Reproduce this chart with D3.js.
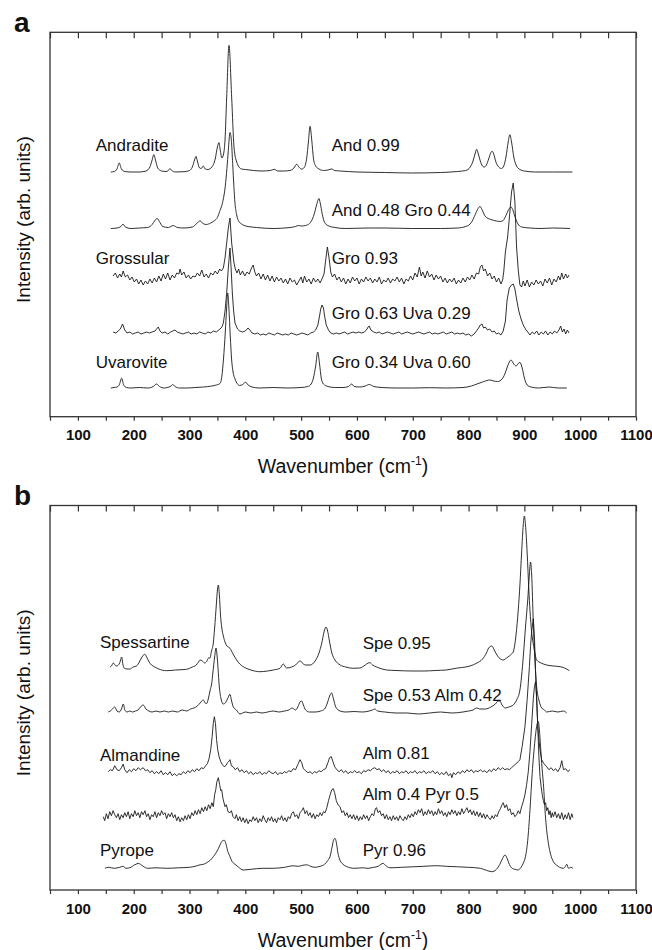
<!DOCTYPE html>
<html>
<head>
<meta charset="utf-8">
<script src="https://cdn.jsdelivr.net/npm/d3@7"></script>
<style>
body { margin: 0; background: #fff; }
text { font-family: "Liberation Sans", Arial, sans-serif; fill: #111; }
</style>
</head>
<body>
<script>
//////////////// Data ////////////////////
// x axis ticks (cm-1)
var tickValues = [50, 100, 150, 200, 250, 300, 350, 400, 450, 500, 550, 600, 650, 700, 750, 800, 850, 900, 950, 1000, 1050, 1100];
var tickLabels = [100, 200, 300, 400, 500, 600, 700, 800, 900, 1000, 1100];

// panel a : names left, compositions right, vertical offsets (arb. units)
var namesA = ["Andradite", "", "Grossular", "", "Uvarovite"];
var compA = ["And 0.99", "And 0.48 Gro 0.44", "Gro 0.93", "Gro 0.63 Uva 0.29", "Gro 0.34 Uva 0.60"];
var offsetsA = [244.7, 188.2, 134.7, 83.7, 28.7];
var noisyA = [false, false, true, true, false];

// spectra: [wavenumber, intensity above own baseline]
var andradite = [[159,0],[165,0.5],[170,3],[174,9],[178,3],[184,0.5],[195,0],[210,0],[222,1],[229,5],[233,12],[236,17.4],[239,12],[243,4],[250,1],[258,0.5],[262,1.5],[265,3.4],[268,1.5],[275,0],[290,0.3],[300,1.5],[305,5],[309,12],[311.6,15.7],[314,11],[318,4],[321,3.5],[324.7,6],[328,3],[333,2.5],[340,5],[346,13],[350,25],[352.8,29.4],[355,22],[358,14],[361,18],[363.6,32],[366.6,75],[370.7,126.7],[375.5,75],[379.7,25],[384.5,10],[393,3],[400,2.5],[415,1.5],[430,1],[445,1.5],[452,2.7],[458,1],[470,1],[480,1.5],[487,4],[492,7.7],[496,5],[501,2.8],[506,5],[510,14],[513,30],[516,45.7],[519,32],[522,14],[526,6],[532,3],[540,1.5],[548,2],[555,3],[560,1.5],[570,1],[600,0],[650,-0.5],[700,-1],[750,-0.5],[780,0.5],[795,1.5],[803,5],[808,11],[812,19],[814.5,22.7],[817,19],[821,11],[825,6],[828,5],[832,7],[836,13],[840,19.5],[842.6,20.7],[845,18],[849,10],[854,5],[859,3.5],[863,6],[867,15],[871,30],[874,37.4],[877,30],[881,15],[886,6],[892,2.5],[900,1],[920,0],[950,0],[986,0]];

var andGro = [[159,0],[170,0.5],[177,2],[181,4.3],[185,1.5],[195,0],[210,0.5],[225,1],[233,4],[238,8],[242,10],[246,7],[252,2],[262,1],[271,3],[278,1],[290,0.5],[305,1.5],[313,5],[319,7.6],[324,5],[330,4],[338,5.5],[345,8],[350,11],[354,17],[360,28],[364,42],[367,60],[369.5,78],[372.5,96],[375,88],[377.3,65],[379.5,42],[381.5,25],[384,15],[387.4,8],[392,5],[398,3],[405,2],[420,1],[450,0],[480,1],[490,2],[495,3],[500,2.5],[508,3],[515,5],[522,12],[527,22],[530,28],[532,30],[534,26],[538,14],[542,6],[548,3],[560,1],[580,0],[620,0.5],[650,0.5],[700,0],[750,0],[780,0.5],[795,2],[805,6],[812,14],[817,20],[820.5,22],[824,19],[830,12],[840,9],[850,7.5],[857,7],[862,8],[867,13],[872,19],[876,21.5],[879,19],[883,12],[888,5],[895,1.5],[910,0.5],[930,0],[950,0.5],[982,0]];

var grossular = [[163,6],[167,9],[171,4],[175,8],[178,5],[181,11],[185,5],[189,7],[193,2],[197,5],[201,0],[205,3],[209,-2],[213,2],[217,-3],[221,1],[225,-2],[229,3],[233,-1],[237,4],[241,0],[245,6],[249,1],[253,8],[257,3],[261,9],[265,2],[269,7],[273,4],[277,9],[281,8],[283,13],[286,7],[290,10],[294,4],[298,7],[302,3],[306,6],[310,5],[314,9],[318,6],[322,12],[326,5],[330,8],[334,4],[338,9],[342,7],[346,11],[350,8],[354,13],[357,11],[360.6,14],[363.6,24],[366.6,39],[369.5,54],[372.5,64],[375.5,39],[379.7,19],[382,13],[385,9],[388,13],[391,7],[395,11],[399,6],[403,10],[407,8],[411,14],[414,17],[417,10],[420,6],[424,9],[428,3],[432,8],[436,2],[440,7],[444,1],[448,6],[452,0],[456,5],[460,1],[464,4],[468,-1],[472,3],[476,-2],[480,4],[484,0],[488,2],[492,-3],[496,1],[500,5],[503,-1],[506,6],[510,0],[514,3],[518,-2],[522,4],[526,0],[530,3],[534,-1],[538,4],[541,8],[544,22],[547,35],[550,24],[553,10],[556,5],[560,8],[564,2],[568,5],[572,0],[576,4],[580,-2],[584,3],[588,-1],[592,5],[596,1],[600,4],[604,-2],[608,3],[612,0],[616,5],[620,1],[624,4],[628,-1],[632,3],[636,0],[640,5],[644,-2],[648,2],[652,0],[656,4],[660,-1],[664,3],[668,1],[672,5],[676,0],[680,4],[684,-2],[688,3],[692,1],[696,6],[700,2],[704,9],[708,5],[712,15],[715,6],[718,10],[722,4],[726,11],[730,5],[734,8],[738,2],[742,7],[746,3],[750,6],[754,0],[758,4],[762,-1],[766,3],[770,0],[774,4],[778,-2],[782,2],[786,-1],[790,4],[794,0],[798,5],[802,2],[806,7],[810,3],[814,9],[818,8],[821,15],[824,17],[827,11],[830,13],[834,6],[838,9],[842,3],[846,6],[850,0],[854,4],[858,-2],[861,2],[863,10],[866,30],[870,45],[874,70],[877,90],[880,99],[883,80],[886,35],[889,12],[892,-3],[895,-5],[898,1],[901,-4],[905,2],[909,-5],[913,0],[917,-3],[921,2],[925,-2],[929,1],[933,-4],[937,3],[941,-1],[945,4],[949,-3],[953,3],[957,0],[961,6],[964,2],[967,9],[970,3],[974,8],[977,4],[980,7]];

var groUva63 = [[163,1],[168,0],[172,2],[176,4],[180,9],[184,3],[188,0],[193,1],[198,-1],[203,0],[208,1],[213,-1],[218,0],[223,1],[228,0],[233,1],[238,2],[241,4],[244,6],[247,2],[251,0],[256,1],[261,-1],[266,1],[270,2],[274,3],[278,1],[283,0],[288,-1],[293,0],[298,1],[303,-1],[308,0],[313,-1],[318,1],[323,0],[328,-1],[333,1],[338,0],[343,2],[348,1],[354.6,4],[358,6],[360.6,10],[363.6,22],[366.6,40],[369.5,65],[372.5,85],[374.5,65],[376.7,40],[379,22],[381.5,10],[386,4],[390,2],[395,1],[400,2],[403,4],[405,5],[408,3],[412,0],[417,-1],[422,0],[427,-2],[432,-1],[437,-2],[442,0],[447,-1],[452,-2],[457,0],[462,-1],[467,-2],[472,-1],[477,-2],[482,0],[487,-1],[492,-2],[497,-1],[502,0],[507,-1],[512,-2],[517,0],[522,1],[526,3],[530,8],[533,17],[535,24],[537.5,28],[540,25],[542,17],[545,8],[549,3],[553,0],[558,-1],[563,0],[568,-1],[573,0],[578,1],[583,-1],[588,0],[593,1],[598,0],[603,1],[608,0],[613,1],[617,3],[620,6],[622,7],[625,3],[630,1],[635,0],[640,1],[645,-1],[650,0],[655,1],[660,0],[665,-1],[670,0],[675,1],[680,-1],[685,0],[690,1],[695,0],[700,-1],[705,0],[710,1],[715,0],[720,-1],[725,0],[730,1],[735,-1],[740,0],[745,-1],[750,0],[755,1],[760,-1],[765,0],[770,1],[775,-1],[780,0],[785,-1],[790,0],[795,-2],[800,-1],[805,-3],[810,-1],[814,2],[818,5],[821,8],[824,9],[827,5],[830,6],[834,3],[838,4],[842,1],[846,2],[850,-1],[854,0],[858,-2],[862,2],[866,12],[869,33],[873,45],[877,48],[880,49],[883,44],[886,34],[890,22],[894,14],[898,8],[902,4],[906,1],[910,-2],[914,1],[918,-1],[922,2],[926,-2],[930,1],[934,-1],[938,2],[942,-2],[946,1],[950,-1],[954,2],[958,0],[962,3],[965,7],[968,1],[971,4],[974,-1],[977,3],[980,0]];

var groUva34 = [[159,0],[165,0.5],[170,1],[174,3],[178.4,9.7],[182,3],[187,0.5],[195,0],[210,0.5],[225,0],[235,1.5],[241,4],[246,1.5],[255,0],[263,1],[267,2],[270,3.5],[274,1.5],[282,0],[295,0],[310,0.5],[325,1],[340,2],[348,3],[354.6,4.5],[358,12],[361,30],[364,55],[366.5,80],[368.3,95],[370.5,80],[373,52],[375.5,28],[378,16],[381.5,9],[386,4],[390,2.5],[395,3.5],[400.6,5.7],[405,3],[412,1],[425,0],[450,0.5],[475,0],[500,0.5],[512,1.5],[518,4],[522,10],[526,22],[529.7,36],[533,24],[536,10],[540,4],[548,1.5],[560,0.5],[575,0.5],[585,1.5],[590.5,4],[595,1.5],[605,1],[615,2],[622,3.5],[630,1.5],[645,0.5],[670,0],[700,0],[730,0.3],[760,0],[790,0.5],[805,2],[815,4],[825,6],[833,7.5],[838,8],[845,7],[852,6.5],[860,9],[865,14],[870,22],[876,28],[881,24],[885,22],[889,24.5],[892,25.7],[896,20],[900,10],[905,3],[912,1],[925,0],[945,1],[960,0],[976,0]];

// panel b
var namesB = ["Spessartine", "", "Almandine", "", "Pyrope"];
var compB = ["Spe 0.95", "Spe 0.53 Alm 0.42", "Alm 0.81", "Alm 0.4 Pyr 0.5", "Pyr 0.96"];
var offsetsB = [220, 178, 118.3, 73.3, 21.7];
var noisyB = [false, false, true, true, false];

var spessartine = [[157.5,3],[160,4],[163.5,7],[166.5,5],[169.5,4],[174,6],[176,9],[178.4,13],[180.5,6],[182.6,2],[188,1],[193,1],[199,3],[205,4],[209,7],[212,10],[216,14],[220,15.7],[224,12],[227.6,8],[232,5],[237.7,3],[245,1],[258.6,-0.7],[275,0],[294.5,0.7],[305,3],[312,5],[316,8],[319,10],[323,9],[327,7],[330.7,8.5],[334,12],[336.7,12],[339,18],[342.6,27],[345,42],[348,65],[350,80],[351.6,85],[353.5,75],[355.5,55],[357.6,43],[360.6,34],[363.6,28],[367,24],[372.5,21.7],[378,16],[384.5,10],[390,6],[396.4,3.3],[410,0],[426,-1.7],[440,-1],[450,0],[462,1.7],[468,6],[474,2],[483,3],[490,5],[495,8],[498,9.3],[502,7],[508,5],[516,5],[525,9],[532,17],[537,27],[541,38],[544.5,43],[547,40],[551,28],[555,17],[560.7,10],[570,5],[580,3],[593.5,1.7],[605,2],[615,5],[620,7],[623,7.3],[628,5],[640,2],[653,0],[670,-0.5],[700,-1],[720,-1],[740,-0.5],[760,0],[780,2],[795,3],[802.6,4],[815,7],[825,11],[832,17],[836,22],[841.4,24],[846,20],[852,14],[857,11],[862,10],[868,12],[873,14],[877,16],[880,18],[885,35],[889,60],[892,85],[895,117],[898,145],[900,154],[902,145],[905,117],[908,80],[910,60],[913,38],[917,23],[922,10],[930,7],[940,5],[952,4],[964,3.3],[972,2],[980.5,-0.7]];

var speAlm = [[154.5,0],[158,1],[162,3],[166,5],[170,1],[174,0],[178,3],[181.4,8],[184,2],[188,0],[193,1],[198,0],[203,1],[208,2],[212,5],[217,7],[222,3],[227,1],[233,0],[240,1],[247,0],[255,1],[262,0],[270,1],[278,0],[287,2],[295,1],[302,3],[308,4],[314,6],[319,9],[324.7,12],[328,9],[330.7,8.5],[334,14],[337,22],[339.6,28],[342,40],[345,55],[347.5,64],[350,52],[353.4,25],[357,12],[360.6,8],[364,9],[368,13],[372.5,17.7],[375,12],[378.5,5],[384,2],[390.4,-2],[400,0],[410,-1],[420,0],[430,-1],[440,0],[450,1],[460,0],[470,1],[478,2],[484,4],[487,3],[490,2],[494,5],[498,10],[501,11],[504,7],[508,2],[515,0],[525,0],[535,1],[542,3],[547,9],[551,16],[554.7,19],[558,13],[562,5],[569.7,1],[580,0],[595,0.5],[610,0],[622,1],[628,2],[632,3],[637,1],[650,0],[670,-1],[690,-1],[710,-2],[730,-1],[750,0],[770,-1],[790,0],[800,1],[808,2],[814.6,4],[820,3],[830,3],[840,5],[848,8],[853,11],[856,11],[860,7],[866,4],[872,5],[880,7],[886,12],[892,22],[898,55],[902,85],[906,112],[909,138],[911,150],[913,138],[916,89],[919,50],[922,25],[926,12],[931,4],[936,2],[940,0],[950,1],[960,0],[970,1],[975.8,-1]];

var almandine = [[154.5,0],[158,2],[162,1],[166,6],[170,2],[174,1],[178,4],[181,7.5],[184,2],[188,-1],[192,2],[196,0],[200,3],[204,1],[208,4],[212,2],[217,4],[221,1],[225,2],[229,-1],[233,1],[237,-2],[241,0],[245,-2],[249,1],[253,-3],[257,-1],[261,-3],[265,0],[269,-4],[273,-2],[277,-4],[281,-2],[285,-3],[289,0],[293,-2],[297,1],[301,-1],[305,2],[309,0],[313,3],[317,1],[321,4],[325,3],[329,6],[332,8],[335,13],[338,22],[340.5,35],[342.5,48],[344.5,55],[346.5,48],[348.5,32],[350.5,22],[353,15],[356,10],[359,7],[362,5],[365,6],[368,9],[370,10],[372.5,12],[375,6],[378,5],[382,2],[386,4],[390,0],[394,2],[398,-1],[402,1],[406,-2],[410,0],[414,-3],[418,-1],[422,-2],[426,0],[430,-3],[434,-1],[438,-2],[442,1],[446,-1],[450,-2],[454,0],[458,-3],[462,-1],[466,-2],[470,0],[474,-1],[478,1],[482,0],[486,3],[490,2],[494,7],[498,12],[501,9],[504,3],[508,1],[512,-1],[516,0],[520,-2],[524,0],[528,-1],[532,1],[536,0],[540,2],[544,3],[548,9],[551,14],[554,15],[557,10],[560,5],[564,2],[568,0],[572,2],[576,-1],[580,1],[584,-2],[588,0],[592,-1],[596,1],[600,-1],[604,0],[608,-2],[612,1],[616,0],[620,2],[624,1],[628,3],[632,4],[636,2],[640,3],[644,0],[648,2],[652,-1],[656,1],[660,-2],[664,0],[668,-1],[672,1],[676,-2],[680,0],[684,-1],[688,1],[692,-2],[696,0],[700,-1],[704,1],[708,-2],[712,0],[716,-1],[720,1],[724,-2],[728,0],[732,-1],[736,1],[740,-2],[744,0],[748,-3],[752,-1],[756,-3],[760,0],[764,-4],[768,-2],[770,-6],[773,-1],[777,-3],[781,0],[785,-2],[789,1],[793,-1],[797,2],[801,0],[805,2],[809,-1],[813,1],[817,0],[821,2],[825,0],[829,1],[833,-1],[837,2],[841,0],[845,3],[849,1],[853,4],[857,2],[861,4],[865,2],[869,3],[873,2],[877,4],[881,6],[885,8],[889,10],[892,12],[896,25],[901,45],[905,72],[909,105],[911,125],[913,140],[916,153],[918,135],[921,85],[923,58],[925,38],[928,22],[931,12],[935,8],[940,5],[944,2],[948,4],[952,1],[956,3],[960,0],[964,4],[967,11],[970,2],[974,3],[978,0],[981.7,2]];

var almPyr = [[145.5,0],[148,-4],[151,3],[154,-2],[157,5],[160,1],[163,6],[166,2],[169,-1],[172,3],[175,-3],[178,2],[181,-1],[184,4],[187,0],[190,5],[193,-2],[196,3],[199,0],[202,6],[205,1],[208,4],[211,-1],[214,5],[217,2],[220,6],[223,0],[226,3],[229,-3],[232,2],[235,0],[238,5],[241,-1],[244,4],[247,1],[250,6],[253,2],[256,4],[259,-2],[262,3],[265,0],[268,4],[271,-1],[274,2],[277,-4],[280,0],[283,-5],[286,-1],[289,-4],[292,1],[295,-3],[298,2],[301,-2],[304,4],[307,1],[310,6],[313,2],[316,7],[319,3],[322,9],[325,5],[328,10],[331,6],[334,12],[337,8],[340,14],[342.6,10],[345,22],[347,27],[349,35],[351.6,39],[354,32],[356,26],[357.6,27],[360,18],[363.6,10],[366,12],[369,5],[372.5,4],[375,6],[378,0],[381.5,-2],[384,2],[387,-4],[390,0],[393,-5],[396,-1],[399,-6],[402,-2],[405,-7],[408,-3],[411,-5],[414,0],[417,-4],[420,-1],[423,-6],[426,-2],[429,-5],[432,1],[435,-3],[438,-6],[441,-1],[444,-4],[447,0],[450,-5],[453,-2],[456,-6],[459,-1],[462,-3],[465,1],[468,-4],[471,-1],[474,-5],[477,0],[480,-2],[483,3],[486,5],[489,0],[492,2],[495,-2],[498,4],[501,6],[504,9],[507,3],[510,6],[513,1],[516,4],[519,-1],[522,3],[525,-2],[528,2],[531,0],[534,4],[537,1],[540,5],[543,4],[546,9],[549,16],[552,22],[555,27],[557.7,28],[560,24],[563,16],[566,12],[569.7,10],[573,4],[576,6],[579,1],[582,4],[585,-1],[588,2],[591,-2],[594,2],[597,-3],[600,1],[603,-4],[606,0],[609,-3],[612,2],[615,-2],[618,1],[621,-4],[624,0],[627,3],[630,1],[633,8],[635,9],[638,4],[641,6],[644,1],[647,3],[650,-2],[653,2],[656,-3],[659,0],[662,-4],[665,1],[668,-3],[671,0],[674,-4],[677,1],[680,-2],[683,-4],[686,0],[689,-3],[692,2],[695,-1],[698,3],[701,0],[704,5],[707,2],[710,7],[713,4],[716,8],[719,1],[722,5],[725,2],[728,7],[731,3],[734,6],[737,1],[740,5],[743,2],[746,8],[749,3],[752,6],[755,1],[758,4],[761,0],[764,5],[767,2],[770,7],[773,3],[776,6],[779,1],[782,5],[785,2],[788,8],[791,3],[794,6],[797,9],[800,4],[803,7],[806,2],[809,6],[812,1],[815,5],[818,0],[821,4],[824,-1],[827,3],[830,-2],[833,2],[836,-1],[839,-3],[842,1],[845,-2],[848,2],[851,0],[854,5],[857,8],[860,12],[862,14],[865,9],[868,12],[871,6],[874,8],[877,2],[880,4],[883,0],[886,2],[889,6],[892,3],[895,10],[898,15],[901,22],[904,32],[907,45],[910,65],[913,92],[916,118],[918,130],[920,135],[922,120],[924,90],[926,60],[928,40],[930,30],[932,22],[934,16],[936,12],[938,14],[940,6],[942,9],[944,2],[946,6],[948,-1],[950,4],[952,0],[955,5],[958,-1],[961,3],[964,-2],[967,4],[970,-3],[973,2],[976,-2],[979,4],[982,-3],[985,3],[987,-1]];

var pyrope = [[148.5,0],[155,1],[165,0],[175,1],[181,2],[186,0],[195,1],[200,3],[204,4],[208,5],[212,4],[217,2],[225,0],[240,0.5],[260,0],[280,0.5],[300,1],[310,2],[319,3.5],[325,4],[332,6],[337,8],[342.6,11.6],[347,15],[352,20],[356,25],[359,27.5],[362.3,28],[365,25],[368,18],[372.5,11.6],[376,7],[381.5,4],[388,1],[396,-1.7],[410,-1],[430,0],[450,0],[470,1],[486,2.5],[495,2],[503,3],[510,3.5],[517,2],[525,1],[534,2],[542,4],[548,8],[551.7,11.6],[555,20],[558,28],[560.7,30],[563,26],[566,15],[569.7,8],[575,4],[581.6,1.7],[595,0],[610,0.5],[620,0],[630,1],[638,2],[643,4],[647,5],[651,3],[659,0.5],[680,1],[700,1.5],[720,2],[743,2.6],[760,2],[780,1.5],[800,1],[821,0],[832,-2],[841.5,-3.4],[850,-1],[856,4],[861,10],[865.3,13.3],[869,10],[873,4],[877,0.5],[883,-1],[889,-1.7],[894,1],[898,5],[902,12],[906,28],[910,58],[914,95],[919,128],[922,142],[925,146.6],[927,138],[929,121.6],[931,105],[934,85],[938,50],[943,25],[947,14],[952,6.6],[958,3],[963,1],[970,0],[973,1.5],[976,4],[979,0],[983,1],[987,0]];

var spectraA = [andradite, andGro, grossular, groUva63, groUva34];
var spectraB = [spessartine, speAlm, almandine, almPyr, pyrope];

//////////////// Layout ////////////////////
var width = 652, height = 950;
var left = 50, right = 636;

var svg = d3.select("body").append("svg")
  .attr("width", width)
  .attr("height", height);

var x = d3.scaleLinear().domain([50, 1100]).range([left, right]);

var panels = [
  {letter: "a", top: 32.3, bottom: 416.7, names: namesA, comp: compA, offsets: offsetsA, spectra: spectraA, noisy: noisyA,
   nameY: [150.7, null, 264.3, null, 368.3], compY: [150.7, 216, 264.3, 319, 368.3], nameX: 95.7, compX: 331.7},
  {letter: "b", top: 505.5, bottom: 890, names: namesB, comp: compB, offsets: offsetsB, spectra: spectraB, noisy: noisyB,
   nameY: [648.3, null, 760.7, null, 856], compY: [649.3, 700.7, 759, 800, 855.7], nameX: 100, compX: 362.7}
];

panels.forEach(function(p) {
  var y = d3.scaleLinear().domain([0, p.bottom - p.top]).range([p.bottom, p.top]);
  var g = svg.append("g");

  // spectra (noisy ones drawn straight point to point)
  p.spectra.forEach(function(s, i) {
    var line = d3.line()
      .curve(p.noisy[i] ? d3.curveLinear : d3.curveMonotoneX)
      .x(function(d) { return x(d[0]); })
      .y(function(d) { return y(p.offsets[i] + d[1]); });
    g.append("path")
      .datum(s)
      .attr("d", line)
      .attr("fill", "none")
      .attr("stroke", "#1a1a1a")
      .attr("stroke-width", 0.9)
      .attr("stroke-linejoin", "round");
  });

  // frame
  g.append("rect")
    .attr("x", left).attr("y", p.top)
    .attr("width", right - left).attr("height", p.bottom - p.top)
    .attr("fill", "none").attr("stroke", "#333").attr("stroke-width", 1.3);

  // bottom axis
  var xAxis = d3.axisBottom(x).tickValues(tickValues).tickSize(4).tickPadding(9)
    .tickFormat(function(d) { return tickLabels.indexOf(d) >= 0 ? d : ""; });
  var ax = g.append("g")
    .attr("transform", "translate(0," + p.bottom + ")")
    .call(xAxis);
  ax.select(".domain").remove();
  ax.selectAll(".tick line").attr("stroke", "#333").attr("stroke-width", 1.2);
  ax.selectAll(".tick text")
    .style("font-family", "'Liberation Sans', Arial, sans-serif")
    .style("font-size", "15px").style("font-weight", "bold").attr("fill", "#111");

  // top ticks (inside)
  var tAxis = d3.axisTop(x).tickValues(tickValues).tickSize(-6).tickFormat("");
  var at = g.append("g")
    .attr("transform", "translate(0," + p.top + ")")
    .call(tAxis);
  at.select(".domain").remove();
  at.selectAll(".tick line").attr("stroke", "#333").attr("stroke-width", 1.2);

  // labels
  p.names.forEach(function(n, i) {
    if (!n) return;
    g.append("text").attr("x", p.nameX).attr("y", p.nameY[i])
      .style("font-size", "17px").text(n);
  });
  p.comp.forEach(function(n, i) {
    g.append("text").attr("x", p.compX).attr("y", p.compY[i])
      .style("font-size", "17px").text(n);
  });

  // axis titles
  var xt = g.append("text")
    .attr("x", (left + right) / 2).attr("y", p.bottom + 56.5)
    .attr("text-anchor", "middle")
    .style("font-size", "19.5px");
  xt.append("tspan").text("Wavenumber (cm");
  xt.append("tspan").attr("dy", -8).style("font-size", "12px").text("-1");
  xt.append("tspan").attr("dy", 8).text(")");

  g.append("text")
    .attr("transform", "translate(30," + ((p.top + p.bottom) / 2 - 5) + ") rotate(-90)")
    .attr("text-anchor", "middle")
    .style("font-size", "19px")
    .text("Intensity (arb. units)");

  // panel letter
  g.append("text")
    .attr("x", 14).attr("y", p.top - 0.5)
    .style("font-size", "28px").style("font-weight", "bold")
    .text(p.letter);
});
</script>
</body>
</html>
